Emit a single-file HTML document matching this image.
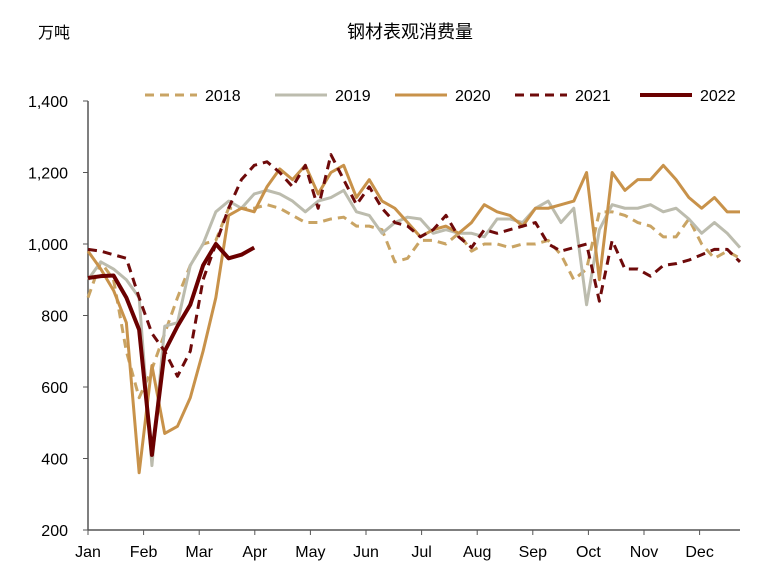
<!DOCTYPE html>
<html><head><meta charset="utf-8"><style>
body{margin:0;background:#fff;}
svg{display:block;font-family:"Liberation Sans","Noto Sans CJK SC",sans-serif;}
</style></head><body>
<svg id="chart" width="761" height="578">
<text x="38" y="38" font-size="16">万吨</text>
<text x="410" y="38" font-size="18" text-anchor="middle">钢材表观消费量</text>
<g id="axes"></g><g id="series"></g><g id="legend"></g>
</svg>
<script>
const months=["Jan","Feb","Mar","Apr","May","Jun","Jul","Aug","Sep","Oct","Nov","Dec"];
const yTicks=[200,400,600,800,1000,1200,1400];
const names=["2018","2019","2020","2021","2022"];
const s2018=[850,950,900,700,570,650,750,850,940,1000,1010,1100,1100,1100,1110,1100,1080,1060,1060,1070,1075,1050,1050,1040,950,960,1010,1010,1000,1030,980,1000,1000,990,1000,1000,1010,970,900,930,1090,1090,1080,1060,1050,1020,1020,1070,1000,960,980,960];
const s2019=[900,950,930,900,850,380,770,780,940,1000,1090,1120,1100,1140,1150,1140,1120,1090,1120,1130,1150,1090,1080,1030,1060,1075,1070,1030,1040,1030,1030,1020,1070,1070,1060,1100,1120,1060,1100,830,1040,1110,1100,1100,1110,1090,1100,1070,1030,1060,1030,990];
const s2020=[980,930,870,780,360,660,470,490,570,700,850,1080,1100,1090,1160,1210,1180,1220,1140,1200,1220,1130,1180,1120,1100,1060,1020,1040,1050,1030,1060,1110,1090,1080,1050,1100,1100,1110,1120,1200,900,1200,1150,1180,1180,1220,1180,1130,1100,1130,1090,1090];
const s2021=[985,980,970,960,850,750,700,630,700,900,1000,1100,1180,1220,1230,1200,1160,1220,1100,1250,1180,1110,1160,1100,1060,1050,1020,1040,1080,1020,990,1040,1030,1040,1050,1060,1000,980,990,1000,840,1010,930,930,910,940,945,955,970,985,985,950];
const s2022=[905,910,912,850,760,410,700,770,830,940,1000,960,970,990];
const NS="http://www.w3.org/2000/svg";
const X0=88,X1=740,Y0=530,Y1=101;
const xw=i=>X0+i*(X1-X0)/51;
const yv=v=>Y0-(v-200)*(Y0-Y1)/1200;
function mk(tag,attrs,parent){const e=document.createElementNS(NS,tag);for(const k in attrs)e.setAttribute(k,attrs[k]);parent.appendChild(e);return e;}
const axes=document.getElementById('axes');
let a=mk('line',{x1:X0,y1:Y1,x2:X0,y2:Y0,stroke:'#555','stroke-width':1.5},axes);


a=mk('line',{x1:X0,y1:Y0,x2:X1,y2:Y0,stroke:'#555','stroke-width':1.5},axes);


yTicks.forEach(v=>{
 mk('line',{x1:X0-5,y1:yv(v),x2:X0,y2:yv(v),stroke:'#555'},axes);
 const t=mk('text',{x:X0-20,y:yv(v)+6,'font-size':16,'text-anchor':'end'},axes);
 t.textContent=v.toLocaleString('en-US');
 
 
});
months.forEach((m,i)=>{
 const x=X0+i*55.6;
 mk('line',{x1:x,y1:Y0,x2:x,y2:Y0+5,stroke:'#555'},axes);
 const t=mk('text',{x:x,y:Y0+27,'font-size':16,'text-anchor':'middle'},axes);
 t.textContent=m;
 
 
});
const styles=[
 {c:'#c9a464',w:3,d:'9,6'},{c:'#bcbcae',w:3,d:''},{c:'#c8924a',w:3,d:''},{c:'#6e0a0a',w:3,d:'9,6'},{c:'#6b0000',w:4,d:''}];
const data=[s2018,s2019,s2020,s2021,s2022];
const sg=document.getElementById('series');
data.forEach((s,k)=>{
 const p=mk('polyline',{points:s.map((v,i)=>xw(i)+','+yv(v)).join(' '),fill:'none',stroke:styles[k].c,'stroke-width':styles[k].w,'stroke-dasharray':styles[k].d,'stroke-linejoin':'round'},sg);
 
 
});
const lg=document.getElementById('legend');
const lx=[145,275,395,515,640];
names.forEach((n,k)=>{
 const g=mk('g',{},lg);
 
 
 mk('line',{x1:lx[k],y1:95,x2:lx[k]+52,y2:95,stroke:styles[k].c,'stroke-width':styles[k].w,'stroke-dasharray':styles[k].d},g);
 const t=mk('text',{x:lx[k]+60,y:101,'font-size':16},g);
 t.textContent=n;
});
</script>
</body></html>
